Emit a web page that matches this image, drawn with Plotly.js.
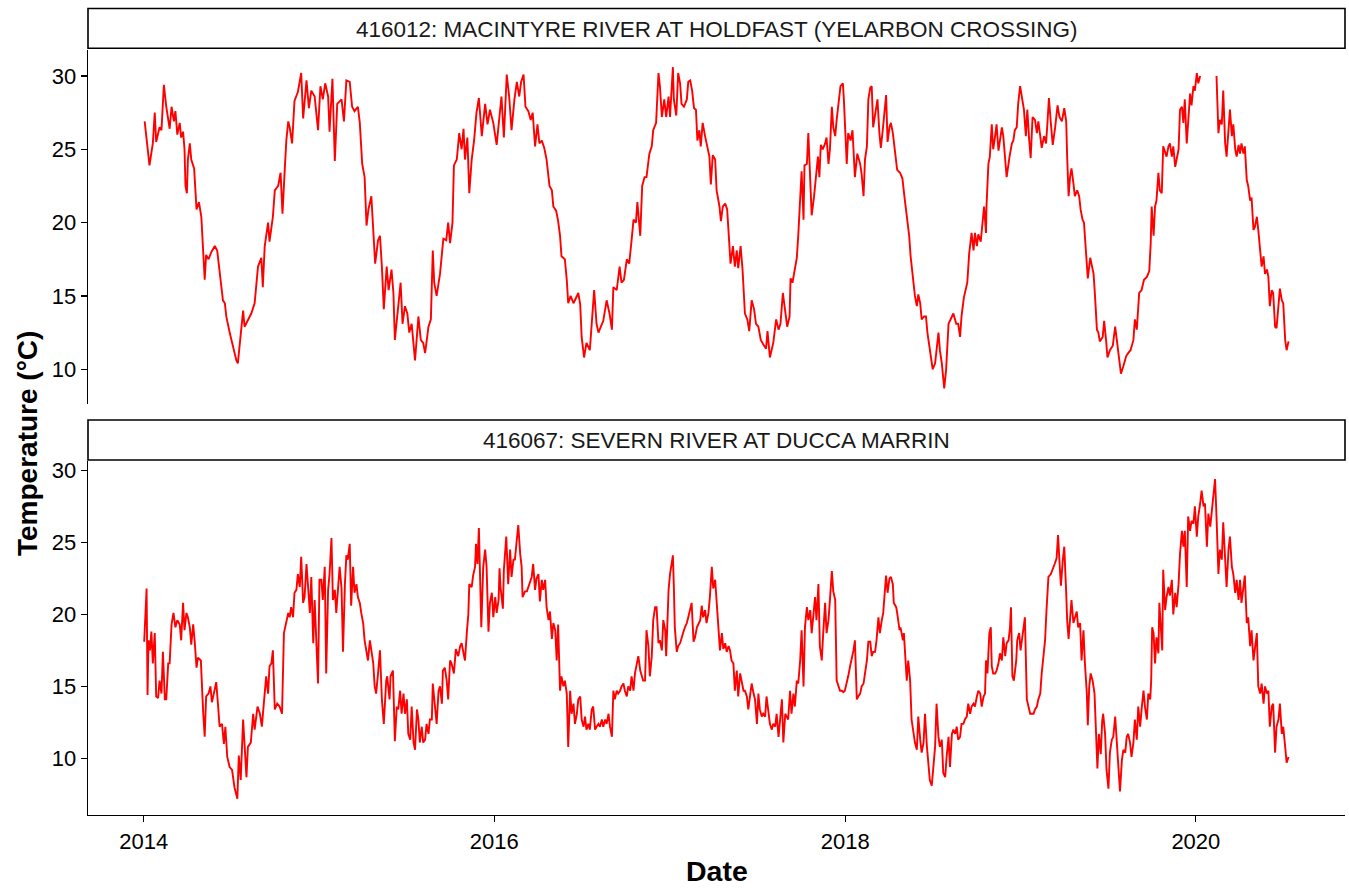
<!DOCTYPE html>
<html>
<head>
<meta charset="utf-8">
<script src="https://cdn.plot.ly/plotly-3.0.1.min.js"></script>
<style>html,body{margin:0;padding:0;background:#fff;}#chart{width:1349px;height:890px;}</style>
</head>
<body>
<div id="chart"></div>
<script>
// Facet labels
const stripTop = "416012: MACINTYRE RIVER AT HOLDFAST (YELARBON CROSSING)";
const stripBottom = "416067: SEVERN RIVER AT DUCCA MARRIN";
const startDate = "2014-01-01";
const xTickVals = ["2014-01-01", "2016-01-01", "2018-01-01", "2020-01-01"];
const xTickText = ["2014", "2016", "2018", "2020"];
const yTickVals = [10, 15, 20, 25, 30];

// 416012 – days since 2014-01-01 and temperature (°C)
const macDays = [2,12,19,23,26,33,37,42,47,54,58,63,66,70,75,78,82,85,87,90,92,96,99,105,110,115,120,124,127,130,135,141,148,153,158,165,169,172,179,186,193,196,200,207,210,217,224,231,238,245,248,252,259,262,266,269,273,280,285,289,294,297,301,304,309,314,321,328,332,339,344,349,356,363,368,373,378,384,387,393,398,403,412,417,422,429,434,439,446,450,455,460,464,468,474,478,482,488,
492,496,500,506,510,516,520,523,530,535,539,544,549,553,558,562,565,572,577,582,586,593,598,602,605,610,617,624,630,634,638,643,646,652,657,662,666,669,674,678,683,688,693,698,704,711,716,721,728,735,741,745,750,756,761,766,772,777,782,786,791,795,801,806,810,815,820,824,829,834,839,845,850,853,859,863,867,870,877,881,884,889,895,900,905,909,912,917,922,929,933,938,943,947,952,957,964,970,975,978,985,991,995,1000,1006,1011,1016,1020,1025,1028,1034,1038,1043,1047,1053,1058,1061,1067,1072,1075,1079,1084,1088,1093,
1096,1102,1104,1109,1113,1117,1120,1125,1131,1134,1138,1142,1146,1150,1153,1157,1160,1164,1169,1174,1178,1181,1185,1190,1193,1199,1202,1206,1211,1215,1220,1222,1227,1231,1235,1238,1243,1247,1252,1257,1261,1266,1271,1275,1280,1285,1290,1296,1299,1304,1311,1317,1322,1326,1331,1336,1340,1345,1347,1351,1356,1360,1363,1367,1370,1374,1376,1381,1384,1386,1391,1396,1400,1404,1407,1410,1414,1419,1422,1426,1429,1433,1436,1440,1443,1447,1451,1456,1458,1464,1467,1472,1476,1481,1486,1492,1495,1499,1502,1506,1509,1513,1516,1519,1524,1528,1532,1535,1539,1542,1546,1549,1553,1556,1560,1565,1569,1575,1580,1584,1589,1594,1597,1601,1606,1610,1613,1617,1620,1625,1629,1632,1637,1643,1648,1651,1655,1658,1662,1667,1671,1676,1680,1686,1692,1696,
1700,1703,1708,1712,1715,1719,1724,1728,1731,1735,1738,1743,1747,1750,1754,1755,1759,1762,1766,1769,1773,1776,1780,1783,1787,1790,1794,1797,1803,1808,1811,1814,1818,1821,1825,1828,1833,1837,1840,1844,1847,1851,1856,1860,1863,1867,1870,1875,1879,1882,1885,1889,1893,1898,1903,1907,1912,1917,1921,1923,1926,1929,1932,1936,1939,1944,1948,1951,1955,1958,1962,1966,1971,1974,1978,1981,1985,1988,1991,1997,2000,2004,2007,2012,2018,2023,2026,2030,2035,2040,2046,2050,2055,2061,2064,2068,2073,2078,2083,2089,2094,2097,2099,2103,2106,2109,2113,2116,2120,2123,2127,2130,2134,2137,2141,2144,2148,2151,2155,2158,2162,2165,2168,2172,2175,2179,2182,2186,2189,2193,2196,2200,2215,2234,2238,2241,2245,2248,2252,2255,2259,2262,2266,2269,2273,2276,2280,2283,2286,2290,2293,2297,2300,2304,2307,2311,2314,2318,2321,2325,2328,2332,2335,2339,2342,2345,2349,2352,2356,2359,2363,2366,2370,2373,2377,2380,2384];
const macTemp = [26.9,23.9,25.4,27.5,25.5,26.5,26.3,29.4,27.9,26.4,27.9,26.9,27.6,26.0,26.8,25.8,26.2,25.0,22.5,22.0,24.3,25.4,24.3,23.7,20.9,21.4,20.4,18.1,16.1,17.8,17.5,18.0,18.4,18.1,16.8,14.7,14.5,13.6,12.5,11.5,10.6,10.4,11.8,14.0,12.9,13.4,13.8,14.5,17.0,17.6,15.6,18.4,20.0,18.7,19.5,20.4,22.2,22.5,23.4,20.6,23.8,25.6,26.9,26.5,25.4,28.3,28.9,30.2,27.1,29.7,27.8,29.0,28.6,26.3,29.3,28.4,29.5,28.6,26.2,29.8,24.2,28.1,28.4,26.9,29.7,29.6,27.9,27.6,27.9,26.8,24.0,23.1,19.8,20.9,21.8,19.5,17.2,18.8,
19.1,17.0,14.1,17.0,15.4,16.8,15.2,12.0,14.5,15.9,13.1,14.3,13.8,12.5,13.1,11.8,10.6,13.6,12.0,11.8,11.1,12.9,13.4,18.1,15.9,15.0,16.5,18.9,18.8,20.0,18.6,20.0,23.9,24.3,26.1,25.0,26.4,24.3,25.8,22.0,24.3,25.6,27.5,28.5,25.9,28.1,26.7,27.7,26.8,25.3,27.2,28.6,25.8,30.1,28.6,26.3,28.4,29.6,28.6,29.6,30.1,27.9,27.6,27.0,27.5,25.2,26.7,25.4,25.6,25.1,24.3,22.5,22.2,21.1,20.8,20.1,19.1,17.7,17.5,16.1,14.5,15.0,14.5,14.9,15.2,14.4,12.2,10.8,11.8,11.3,12.9,15.4,13.1,12.5,12.9,13.3,14.7,13.8,12.7,15.6,15.4,17.0,15.9,16.1,17.5,17.2,18.8,20.2,20.0,21.4,19.1,22.5,23.1,23.1,24.7,25.2,26.3,26.8,30.2,29.3,27.2,28.4,27.2,28.6,
27.2,30.6,28.4,27.3,30.2,29.5,28.1,27.9,28.4,29.6,29.7,29.0,27.8,27.7,25.6,26.3,25.2,26.8,25.9,25.0,24.5,22.6,24.6,24.3,22.2,21.1,20.1,21.1,21.3,20.9,18.6,17.2,18.4,17.0,18.1,16.9,18.4,16.8,13.8,13.4,12.6,14.7,14.1,13.1,12.9,12.0,11.7,11.4,12.6,10.8,11.8,13.4,12.7,13.1,15.2,13.8,12.9,13.6,16.2,15.9,16.8,17.6,19.1,21.5,23.5,20.2,23.9,24.0,26.1,24.5,20.5,21.8,23.1,24.5,23.1,25.3,25.0,25.4,25.8,24.0,25.0,27.9,26.5,25.9,27.0,28.4,29.3,29.5,28.4,24.0,26.1,25.6,26.3,23.1,24.7,24.0,23.3,21.8,24.3,25.2,28.4,29.2,29.3,26.5,27.7,28.4,26.1,25.1,26.3,27.2,28.7,25.5,26.5,26.8,26.1,24.7,23.6,23.4,23.0,21.8,20.4,19.1,17.7,16.5,15.0,14.3,15.1,14.5,13.4,13.6,13.6,12.5,11.3,10.0,10.4,11.5,12.5,11.3,10.4,8.7,10.0,13.1,13.4,13.8,13.1,13.1,
12.2,13.6,14.9,15.6,15.9,17.9,19.3,18.1,19.3,18.4,19.2,18.7,20.0,21.1,19.3,21.1,24.0,24.5,26.7,25.0,25.9,26.7,24.9,25.6,26.5,25.9,24.5,23.1,24.5,25.4,25.6,26.3,26.5,28.1,29.3,28.6,27.7,25.9,27.7,25.6,24.4,27.2,27.0,26.1,26.9,25.9,25.1,25.9,25.4,26.8,28.5,26.8,25.3,26.5,28.0,27.2,26.9,27.8,26.9,24.5,21.8,23.1,23.7,22.7,21.8,22.2,21.8,20.9,20.2,20.0,17.9,16.2,17.6,17.0,16.5,15.0,12.7,12.5,11.9,12.2,13.3,12.0,10.8,11.3,11.6,12.9,12.0,10.9,9.7,10.2,10.9,11.1,11.3,12.0,13.4,12.7,15.2,15.4,16.1,16.3,16.7,18.6,21.1,19.1,21.1,21.5,23.4,22.2,22.0,25.2,24.7,24.5,25.2,25.4,24.5,25.2,23.8,24.3,25.0,27.7,27.9,26.8,28.4,25.4,27.2,28.8,28.0,29.3,29.0,30.2,29.5,30.0,null,30.0,26.1,27.0,26.7,29.0,25.4,24.5,26.5,27.7,25.9,26.7,25.0,24.5,25.3,24.7,25.4,24.7,25.2,22.9,22.5,21.5,21.7,19.5,19.7,20.4,19.5,17.9,17.0,17.7,16.5,16.8,16.3,14.3,15.4,15.2,12.9,12.8,14.5,15.5,14.7,14.5,12.0,11.3,11.9];

// 416067 – days since 2014-01-01 and temperature (°C)
const sevDays = [1,6,8,10,13,16,19,23,26,30,33,37,40,44,47,51,54,58,62,66,70,75,78,82,85,89,92,96,99,103,106,110,113,119,124,127,130,135,139,142,146,151,155,158,163,167,170,174,179,184,189,195,198,202,207,210,214,217,223,228,231,237,242,246,251,255,259,262,266,269,273,278,283,288,292,297,301,304,307,311,314,318,321,325,328,332,335,339,342,346,349,353,356,360,363,366,370,373,377,380,384,387,391,394,398,401,405,408,412,415,419,422,425,429,432,436,439,443,446,450,453,457,460,464,467,471,474,478,481,484,488,491,
492,496,500,505,507,512,514,519,521,523,527,530,534,537,541,544,548,551,555,558,562,565,569,572,575,579,582,586,589,593,596,600,602,607,610,614,617,621,623,627,631,634,638,641,646,650,655,659,662,666,669,673,676,678,683,686,690,692,695,698,700,703,707,711,714,718,721,725,728,732,735,739,741,743,748,750,755,757,759,763,766,770,773,777,780,784,787,789,794,798,801,804,808,811,815,818,822,825,829,832,836,839,843,846,850,853,857,860,863,867,870,874,877,881,884,888,891,895,898,902,905,909,912,916,919,922,926,929,933,936,940,943,947,950,954,957,961,964,968,971,975,978,981,985,988,992,995,999,1002,1006,1009,1013,1016,1020,1023,1027,1030,1034,1037,1040,1044,1047,1051,1054,1058,1061,1065,1068,1072,1075,1079,1082,1086,1088,1090,1093,
1096,1102,1104,1106,1110,1113,1117,1120,1124,1127,1131,1134,1138,1141,1145,1148,1152,1155,1159,1162,1165,1169,1172,1176,1179,1183,1186,1190,1193,1197,1200,1204,1207,1211,1214,1218,1221,1224,1228,1231,1235,1238,1242,1245,1249,1252,1256,1259,1263,1266,1270,1273,1277,1280,1283,1287,1290,1294,1297,1301,1304,1308,1311,1315,1318,1322,1325,1329,1332,1336,1339,1342,1346,1349,1353,1356,1360,1363,1367,1370,1374,1377,1381,1384,1388,1391,1395,1398,1401,1405,1408,1412,1415,1419,1422,1426,1429,1433,1436,1440,1443,1447,1450,1454,1457,1460,1464,1467,1471,1474,1478,1481,1485,1488,1492,1495,1499,1502,1506,1509,1513,1516,1519,1523,1526,1530,1533,1537,1540,1544,1546,1549,1553,1556,1560,1562,1567,1569,1574,1576,1581,1583,1586,1589,1592,1596,1599,1603,1606,1610,1613,1617,1620,1624,1627,1631,1634,1637,1641,1644,1648,1651,1655,1658,1662,1665,1669,1672,1676,1679,1683,1686,1690,1693,1696,1700,1703,1707,1710,1714,1717,
1721,1724,1728,1731,1735,1738,1742,1745,1749,1752,1754,1757,1761,1764,1766,1769,1773,1776,1780,1783,1787,1790,1794,1797,1801,1804,1806,1809,1812,1817,1819,1823,1826,1830,1835,1839,1842,1846,1849,1853,1856,1860,1863,1867,1870,1873,1877,1880,1884,1889,1893,1897,1901,1904,1908,1910,1914,1917,1921,1923,1926,1929,1932,1936,1939,1943,1946,1950,1953,1957,1960,1964,1966,1969,1972,1976,1980,1983,1986,1989,1993,1996,1998,2002,2005,2009,2012,2016,2019,2023,2026,2030,2033,2037,2040,2044,2047,2050,2054,2057,2061,2064,2068,2071,2075,2078,2082,2085,2089,2092,2096,2098,2100,2103,2106,2109,2113,2115,2118,2121,2123,2127,2130,2134,2137,2141,2144,2148,2151,2155,2158,2162,2165,2168,2172,2175,2179,2182,2186,2189,2193,2196,2200,2203,2207,2210,2214,2217,2221,2224,2227,2231,2234,2238,2241,2245,2248,2252,2255,2259,2262,2266,2269,2273,2276,2280,2283,2286,2290,2293,2297,2300,2304,2307,2311,2314,2318,2321,2325,2328,2332,2335,2339,2342,2345,2349,2352,2356,2359,2363,2366,2370,2373,2377,2380,2384];
const sevTemp = [18.1,21.8,14.4,18.2,17.5,18.8,16.6,18.7,14.3,14.2,15.4,14.5,17.4,14.1,14.1,16.6,16.6,19.3,20.1,19.1,19.6,19.3,18.2,20.8,18.9,20.1,19.8,19.1,17.9,19.3,18.2,16.3,17.0,16.8,13.1,11.5,14.3,14.5,15.0,13.9,14.5,15.3,13.6,12.2,12.4,11.0,12.2,10.1,9.4,9.2,8.0,7.2,10.2,8.5,12.7,10.6,8.7,10.8,11.1,13.1,12.0,13.6,13.1,12.2,14.4,15.7,14.5,16.4,16.6,17.5,13.4,13.8,13.6,13.1,18.7,19.6,20.1,19.8,20.5,19.8,21.5,21.7,22.8,21.9,24.0,20.8,21.2,23.5,22.1,20.1,22.6,18.0,21.0,16.8,15.2,22.4,22.4,21.0,23.3,15.9,21.7,22.8,25.3,21.0,21.7,20.1,22.4,23.3,21.8,17.4,22.1,24.1,23.8,24.9,20.6,23.3,21.5,22.1,21.2,20.8,20.1,19.4,18.2,17.4,16.8,18.2,17.5,16.6,15.0,14.5,15.9,17.5,
17.5,14.1,12.4,15.4,15.7,14.1,15.7,16.1,12.2,11.2,13.6,13.4,14.7,13.1,14.5,13.1,14.1,11.7,11.3,13.6,11.1,10.6,13.4,12.7,11.1,12.2,11.1,11.3,12.4,11.7,12.7,12.7,15.2,13.6,12.4,14.7,15.0,13.8,16.1,16.3,15.4,14.1,16.8,16.6,15.9,17.6,17.1,17.8,18.0,17.3,16.8,18.8,20.0,22.1,21.9,22.7,23.3,24.9,23.5,26.0,23.1,19.1,23.3,24.5,23.3,18.8,20.8,21.5,19.8,21.2,20.1,21.0,23.2,21.9,20.4,23.1,25.4,23.1,22.1,24.5,22.6,23.8,23.8,25.2,26.2,24.2,23.3,21.2,21.6,21.6,21.9,22.1,22.6,23.5,21.7,22.5,22.8,20.9,22.4,21.7,22.4,20.5,19.6,20.2,18.3,19.4,18.9,16.8,19.3,14.7,15.7,15.0,15.4,14.5,10.8,14.7,13.1,13.8,12.4,13.1,14.1,14.3,12.7,12.2,12.9,12.0,12.4,12.0,13.4,13.6,12.0,12.2,12.4,12.2,12.7,12.2,12.7,12.4,13.1,12.2,11.5,14.7,14.1,14.7,14.5,14.7,15.0,15.2,14.7,14.3,15.0,14.7,15.7,14.7,15.9,16.6,17.1,16.1,15.7,15.4,15.4,18.9,17.8,15.7,17.1,19.6,20.5,20.5,18.0,18.2,17.5,19.6,18.9,17.1,18.9,21.7,
22.8,24.1,21.9,19.1,17.4,17.8,18.0,18.4,18.8,19.1,19.4,19.8,20.4,20.8,18.1,18.4,19.1,19.3,19.6,20.6,19.8,20.3,19.4,20.1,21.2,23.3,21.8,22.4,21.0,18.9,17.5,18.7,17.6,18.0,17.4,17.8,17.5,16.8,16.6,14.7,16.1,14.3,15.9,15.4,14.7,14.7,14.3,13.4,14.5,15.2,14.5,14.1,12.4,14.5,13.4,12.9,13.1,12.9,14.3,12.9,12.4,12.0,12.4,12.2,13.1,11.5,12.7,14.1,11.1,13.1,12.9,12.7,14.7,13.1,14.5,13.6,15.4,15.2,16.8,18.9,15.0,19.1,20.5,19.6,20.3,18.7,20.1,21.2,19.6,22.1,17.8,16.8,18.7,20.8,18.7,19.6,21.0,23.0,21.6,21.0,15.4,15.0,14.7,14.7,14.6,14.7,15.2,15.7,16.4,16.8,17.5,18.2,14.1,14.3,14.5,15.0,15.2,15.9,16.8,18.1,18.1,17.1,17.4,17.4,18.2,19.8,18.7,19.6,20.1,21.9,22.7,21.5,22.5,22.6,22.1,20.8,20.5,20.1,18.9,19.1,18.2,18.7,17.1,15.4,16.8,15.4,12.7,11.7,11.1,10.6,12.9,11.3,10.4,11.1,13.1,10.8,9.4,8.5,8.1,9.4,10.8,13.8,11.5,10.8,11.3,9.0,8.7,10.1,11.5,9.4,11.7,12.0,11.7,12.2,11.3,11.5,12.4,12.4,12.7,12.9,13.8,
13.1,13.6,13.8,13.6,14.3,14.7,14.5,13.6,14.3,14.5,16.8,15.9,18.7,19.1,16.4,15.9,15.9,16.1,16.6,17.3,16.8,18.4,17.1,18.0,18.2,19.1,20.5,15.7,15.4,16.8,18.2,18.7,17.5,18.7,19.8,14.1,13.6,13.1,13.1,13.1,13.4,13.6,14.1,14.5,15.9,17.1,18.2,20.3,22.6,22.8,23.1,23.5,23.9,25.5,23.1,22.0,23.8,24.7,21.5,19.6,18.3,20.1,21.0,19.4,19.8,20.2,19.1,19.4,16.8,18.9,16.6,14.5,12.3,15.0,15.9,15.4,14.5,12.2,9.3,11.7,10.3,12.6,13.1,11.7,9.2,7.9,10.4,11.3,11.5,12.9,11.3,8.5,7.7,9.9,10.6,10.4,11.5,11.7,11.1,10.1,11.1,12.7,11.3,13.6,12.2,13.4,14.7,13.6,12.7,14.5,14.1,15.4,19.1,18.7,16.6,18.4,17.3,20.8,19.1,17.5,23.1,20.3,21.2,21.9,21.3,22.4,20.0,21.5,20.5,22.1,24.2,25.8,24.7,25.8,21.9,26.8,25.8,26.5,26.3,27.5,25.4,26.8,27.7,28.6,27.5,27.7,24.7,27.0,26.1,27.0,27.9,29.4,26.8,22.8,24.5,23.8,26.4,24.2,21.9,24.5,25.4,23.3,22.8,21.5,22.4,21.0,22.4,20.8,21.7,22.7,19.4,19.8,17.8,18.9,16.8,17.8,18.7,15.0,14.5,15.2,13.8,15.0,14.5,14.7,12.2,13.6,13.8,10.4,12.2,12.7,13.8,11.7,12.2,10.8,9.7,10.1];

function toDates(days) {
  const t0 = Date.parse(startDate + "T00:00:00Z");
  return days.map(d => new Date(t0 + d * 86400000).toISOString().slice(0, 10));
}

const font = "Liberation Sans, Arial, sans-serif";
const lineStyle = {color: "#FF0000", width: 1.9};

const traces = [
  {x: toDates(macDays), y: macTemp, type: "scatter", mode: "lines", line: lineStyle,
   xaxis: "x", yaxis: "y2", connectgaps: false, hoverinfo: "x+y", showlegend: false},
  {x: toDates(sevDays), y: sevTemp, type: "scatter", mode: "lines", line: lineStyle,
   xaxis: "x", yaxis: "y", connectgaps: false, hoverinfo: "x+y", showlegend: false}
];

const axisCommon = {
  showline: true, linecolor: "#000", linewidth: 1.3,
  ticks: "outside", ticklen: 6, tickwidth: 1.3, tickcolor: "#000",
  showgrid: false, zeroline: false,
  tickfont: {family: font, size: 22, color: "#000"}
};

const H = 765; // plot area height in px (t=50, b=75)
function py(pix) { return (815 - pix) / H; }

const layout = {
  width: 1349, height: 890,
  margin: {l: 88, r: 4, t: 50, b: 75},
  paper_bgcolor: "#fff", plot_bgcolor: "#fff",
  font: {family: font, color: "#000"},
  showlegend: false,
  xaxis: Object.assign({}, axisCommon, {
    type: "date", anchor: "y",
    range: ["2013-09-07", "2020-11-06 14:00"],
    tickvals: xTickVals, ticktext: xTickText
  }),
  yaxis: Object.assign({}, axisCommon, {
    anchor: "x", domain: [0, py(461)], range: [6.07, 30.65], tickvals: yTickVals
  }),
  yaxis2: Object.assign({}, axisCommon, {
    anchor: "x", domain: [py(404), 1], range: [7.63, 31.77], tickvals: yTickVals
  }),
  shapes: [
    {type: "rect", xref: "paper", yref: "paper", x0: 0, x1: 1, y0: py(48.3), y1: py(8.5),
     line: {color: "#000", width: 1.6}, fillcolor: "#fff", layer: "above"},
    {type: "rect", xref: "paper", yref: "paper", x0: 0, x1: 1, y0: py(460), y1: py(420),
     line: {color: "#000", width: 1.6}, fillcolor: "#fff", layer: "above"}
  ],
  annotations: [
    {text: stripTop, xref: "paper", yref: "paper", x: 0.5, y: py(29), xanchor: "center", yanchor: "middle",
     showarrow: false, font: {family: font, size: 22.5, color: "#1a1a1a"}},
    {text: stripBottom, xref: "paper", yref: "paper", x: 0.5, y: py(440), xanchor: "center", yanchor: "middle",
     showarrow: false, font: {family: font, size: 22.5, color: "#1a1a1a"}},
    {text: "Temperature (°C)", xref: "paper", yref: "paper", x: (28 - 88) / 1257, y: py(444),
     xanchor: "center", yanchor: "middle", textangle: -90, showarrow: false,
     font: {family: font, size: 28, color: "#000", weight: "bold"}},
    {text: "Date", xref: "paper", yref: "paper", x: 0.5, y: py(871), xanchor: "center", yanchor: "middle",
     showarrow: false, font: {family: font, size: 28.5, color: "#000", weight: "bold"}}
  ]
};

Plotly.newPlot("chart", traces, layout, {displayModeBar: false, staticPlot: true});
</script>
</body>
</html>
